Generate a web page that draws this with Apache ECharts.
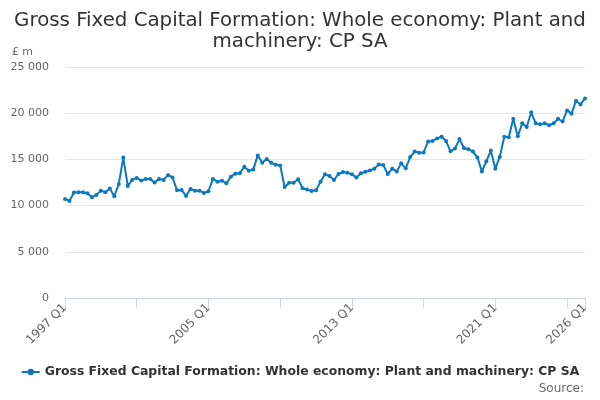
<!DOCTYPE html>
<html>
<head>
<meta charset="utf-8">
<script src="https://cdn.jsdelivr.net/npm/echarts@6/dist/echarts.min.js"></script>
<style>
  html, body { margin: 0; padding: 0; background: #fff; }
  #chart { width: 600px; height: 400px; }
</style>
</head>
<body>
<div id="chart"></div>
<script>
// quarterly series, 1997 Q1 .. 2026 Q1 (£ m, current prices, seasonally adjusted)
const FIRST_YEAR = 1997;
const values = [
  10720, 10500, 11410, 11440, 11440, 11340, 10900, 11160,
  11620, 11440, 11840, 11010, 12350, 15200, 12130, 12780,
  13000, 12710, 12890, 12890, 12490, 12890, 12780, 13320,
  13030, 11660, 11700, 11050, 11800, 11620, 11620, 11370,
  11550, 12890, 12590, 12700, 12410, 13130, 13450, 13490,
  14210, 13780, 13920, 15430, 14640, 15040, 14640, 14420,
  14350, 12010, 12480, 12480, 12840, 11870, 11730, 11580,
  11650, 12590, 13380, 13200, 12770, 13420, 13630, 13560,
  13380, 13050, 13500, 13650, 13800, 14000, 14450, 14390,
  13420, 14000, 13700, 14570, 14030, 15250, 15850, 15720,
  15760, 16950, 17000, 17270, 17450, 17000, 15870, 16190,
  17200, 16230, 16100, 15850, 15200, 13700, 14800, 15950,
  14000, 15300, 17450, 17400, 19400, 17500, 18900, 18500,
  20100, 18900, 18800, 18900, 18700, 18900, 19400, 19100,
  20300, 19950, 21350, 20950, 21600
];

const categories = [];
for (let i = 0; i < values.length; i++) {
  categories.push((FIRST_YEAR + Math.floor(i / 4)) + " Q" + (i % 4 + 1));
}

const SERIES_NAME = "Gross Fixed Capital Formation: Whole economy: Plant and machinery: CP SA";
const TITLE = "Gross Fixed Capital Formation: Whole economy: Plant and\nmachinery: CP SA";
const LINE = "#0b78c0";
const FONT = "DejaVu Sans, sans-serif";
const last = values.length - 1;

const fmtThousands = (v) => String(v).replace(/\B(?=(\d{3})+(?!\d))/g, " ");

const chart = echarts.init(document.getElementById("chart"));
chart.setOption({
  animation: false,
  textStyle: { fontFamily: FONT },
  title: [
    { text: TITLE, left: "center", top: 5,
      textStyle: { fontFamily: FONT, fontSize: 19.8, fontWeight: "normal", color: "#333", lineHeight: 21, align: "center" } },
    { text: "Source:", right: 11, bottom: 0,
      textStyle: { fontFamily: FONT, fontSize: 12, fontWeight: "normal", color: "#666" } },
  ],
  grid: { left: 65, right: 15, top: 67, bottom: 102 },
  legend: {
    data: [SERIES_NAME], bottom: 17, left: "center",
    itemWidth: 18, itemHeight: 8, itemGap: 6,
    textStyle: { fontFamily: FONT, fontSize: 12.4, fontWeight: "bold", color: "#333" },
  },
  xAxis: {
    type: "category", data: categories, boundaryGap: false,
    axisLine: { lineStyle: { color: "#ccd6eb" } },
    axisTick: { alignWithLabel: true, length: 10, lineStyle: { color: "#ccd6eb" },
      interval: (i) => i % 16 === 0 || i === last },
    axisLabel: { rotate: 45, color: "#666", fontSize: 12, margin: 8, showMaxLabel: true,
      interval: (i) => i % 32 === 0 || i === last },
    splitLine: { show: false },
  },
  yAxis: {
    type: "value", min: 0, max: 25000, interval: 5000,
    name: "£ m", nameLocation: "end", nameGap: 9,
    nameTextStyle: { color: "#666", fontSize: 11, align: "right", padding: [0, 32, 0, 0] },
    axisLine: { show: false }, axisTick: { show: false },
    axisLabel: { color: "#666", fontSize: 11, margin: 16, formatter: fmtThousands },
    splitLine: { lineStyle: { color: "#e6e6e6" } },
  },
  series: [
    { name: SERIES_NAME, type: "line", data: values,
      symbol: "circle", symbolSize: 4, showAllSymbol: true,
      lineStyle: { color: LINE, width: 2 }, itemStyle: { color: LINE } },
  ],
});
</script>
</body>
</html>
